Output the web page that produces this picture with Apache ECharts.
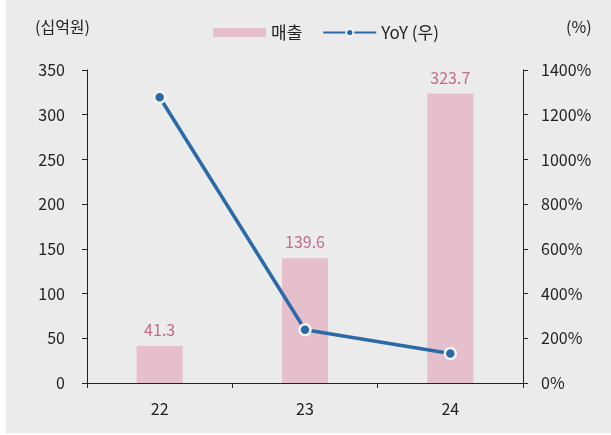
<!DOCTYPE html>
<html><head><meta charset="utf-8">
<script src="https://cdn.jsdelivr.net/npm/echarts@6/dist/echarts.min.js"></script>
<style>html,body{margin:0;padding:0;background:#fff}#c{width:611px;height:435px}</style>
</head><body><div id="c"></div>
<script>
const categories = ['22', '23', '24'];
const sales = [41.3, 139.6, 323.7];
const yoy = [1278, 238, 132];
const leftTicks = [0, 350, 50];
const rightTicks = [0, 1400, 200];

const F = "'Noto Sans CJK KR', 'Noto Sans', sans-serif";
const chart = echarts.init(document.getElementById('c'));
chart.setOption({
  animation: false,
  backgroundColor: '#fff',
  graphic: [
    {type: 'rect', left: 6, top: 0, shape: {width: 605, height: 433}, style: {fill: '#ebebeb'}, z: -10},
    {type: 'text', left: 35, top: 19, style: {text: '(십억원)', font: '16px ' + F, fill: '#222'}},
    {type: 'text', left: 566, top: 19, style: {text: '(%)', font: '16px ' + F, fill: '#222'}}
  ],
  legend: {
    left: 208, top: 19, itemGap: 20, itemWidth: 53, itemHeight: 9,
    textStyle: {fontFamily: F, fontSize: 17, color: '#222'},
    data: [{name: '매출', icon: 'rect'}, {name: 'YoY (우)'}]
  },
  grid: {left: 87, right: 88, top: 70, bottom: 52},
  xAxis: {
    type: 'category', data: categories,
    axisLine: {lineStyle: {color: '#222', width: 1}},
    axisTick: {show: true, length: 5, lineStyle: {color: '#222'}},
    axisLabel: {color: '#222', fontFamily: F, fontSize: 16, margin: 18}
  },
  yAxis: [
    {type: 'value', min: leftTicks[0], max: leftTicks[1], interval: leftTicks[2],
     axisLine: {show: true, lineStyle: {color: '#222'}},
     axisTick: {show: true, length: 5, lineStyle: {color: '#222'}},
     splitLine: {show: false},
     axisLabel: {color: '#222', fontFamily: F, fontSize: 16, margin: 22}},
    {type: 'value', min: rightTicks[0], max: rightTicks[1], interval: rightTicks[2],
     axisLine: {show: true, lineStyle: {color: '#222'}},
     axisTick: {show: true, length: 5, lineStyle: {color: '#222'}},
     splitLine: {show: false},
     axisLabel: {color: '#222', fontFamily: F, fontSize: 16, margin: 18, formatter: function (v) { return v + '%'; }}}
  ],
  series: [
    {name: '매출', type: 'bar', data: sales, barWidth: 46, yAxisIndex: 0,
     itemStyle: {color: '#e5bfcb'},
     label: {show: true, position: 'top', distance: 8, color: '#c56b8b', fontFamily: F, fontSize: 16}},
    {name: 'YoY (우)', type: 'line', data: yoy, yAxisIndex: 1,
     symbol: 'circle', symbolSize: 11, showSymbol: true,
     lineStyle: {color: '#2b6aa7', width: 3.5},
     itemStyle: {color: '#2b6aa7', borderColor: '#f4f4f4', borderWidth: 2.5}}
  ]
});
</script></body></html>
